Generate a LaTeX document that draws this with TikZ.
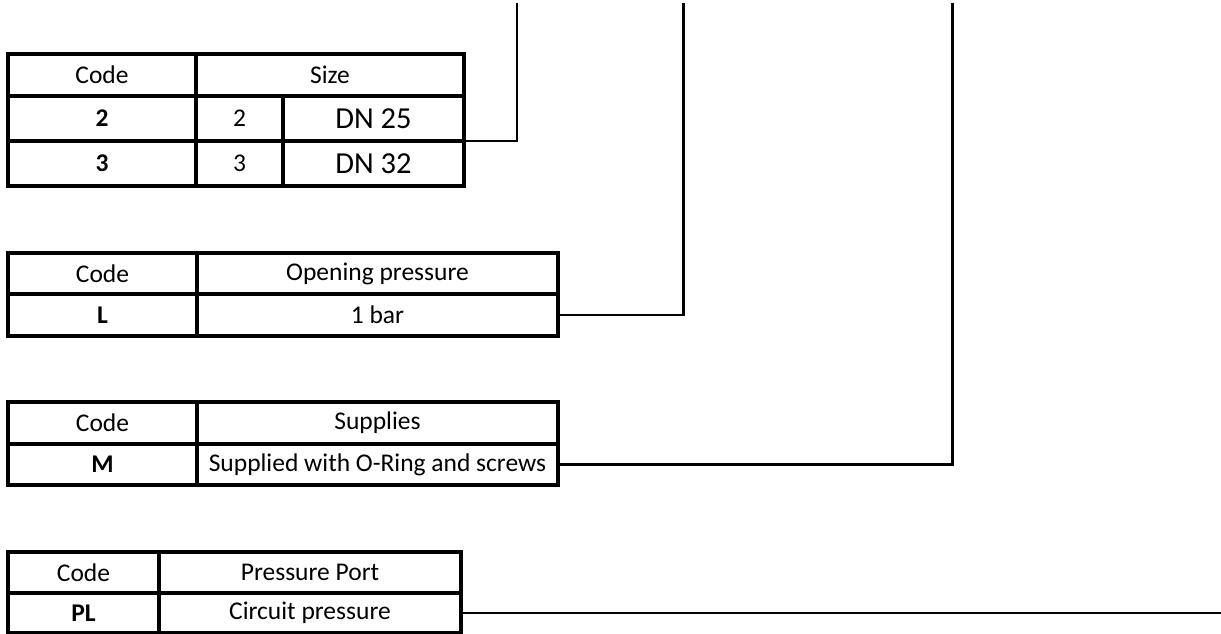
\documentclass[tikz,border=0pt]{standalone}
\usepackage{fontspec}
\setmainfont{Carlito}
\begin{document}
\begin{tikzpicture}[x=1pt,y=-1pt,
  cell/.style={draw=black,line width=3.2pt,inner sep=0pt,outer sep=0pt,
    font=\fontsize{25.5}{30}\selectfont,text=black},
  bigcell/.style={cell,font=\fontsize{30.5}{36}\selectfont},
  boldcell/.style={cell,font=\fontsize{25.5}{30}\selectfont\bfseries},
  conn/.style={draw=black,line width=2.8pt}]
\useasboundingbox (0,0) rectangle (1221,634);
% Table 1
\node[cell,minimum width=188pt,minimum height=42pt] (t1hc) at (102,75) {Code};
\node[cell,minimum width=268pt,minimum height=42pt] (t1hs) at (330,75) {Size};
\node[boldcell,minimum width=188pt,minimum height=45pt] (t1a) at (102,118.5) {2};
\node[cell,minimum width=87pt,minimum height=45pt] (t1b) at (239.5,118.5) {2};
\node[bigcell,minimum width=181pt,minimum height=45pt] (t1c) at (373.5,118.5) {DN 25};
\node[boldcell,minimum width=188pt,minimum height=45pt] (t1d) at (102,163.5) {3};
\node[cell,minimum width=87pt,minimum height=45pt] (t1e) at (239.5,163.5) {3};
\node[bigcell,minimum width=181pt,minimum height=45pt] (t1f) at (373.5,163.5) {DN 32};
% Table 2
\node[cell,minimum width=189pt,minimum height=41pt] (t2hc) at (102.5,273.5) {Code};
\node[cell,minimum width=361pt,minimum height=41pt] (t2hs) at (377.5,273.5) {Opening pressure};
\node[boldcell,minimum width=189pt,minimum height=42pt] (t2a) at (102.5,315) {L};
\node[cell,minimum width=361pt,minimum height=42pt] (t2b) at (377.5,315) {1 bar};
% Table 3
\node[cell,minimum width=189pt,minimum height=42pt] (t3hc) at (102.5,423) {Code};
\node[cell,minimum width=361pt,minimum height=42pt] (t3hs) at (377.5,423) {Supplies};
\node[boldcell,minimum width=189pt,minimum height=41pt] (t3a) at (102.5,464.5) {M};
\node[cell,minimum width=361pt,minimum height=41pt] (t3b) at (377.5,464.5) {Supplied with O-Ring and screws};
% Table 4
\node[cell,minimum width=151pt,minimum height=41pt] (t4hc) at (83.5,572.5) {Code};
\node[cell,minimum width=302pt,minimum height=41pt] (t4hs) at (310,572.5) {Pressure Port};
\node[boldcell,minimum width=151pt,minimum height=40pt] (t4a) at (83.5,613) {PL};
\node[cell,minimum width=302pt,minimum height=40pt] (t4b) at (310,613) {Circuit pressure};
% connector ends
\coordinate (top1) at (517,3);
\coordinate (top2) at (683.5,3);
\coordinate (top3) at (952.5,3);
\coordinate (rend) at (1221,613);
\draw[conn] (t1c.south east) -| (top1);
\draw[conn] (t2b.east) -| (top2);
\draw[conn] (t3b.east) -| (top3);
\draw[conn] (t4b.east) -- (rend);
\end{tikzpicture}
\end{document}
